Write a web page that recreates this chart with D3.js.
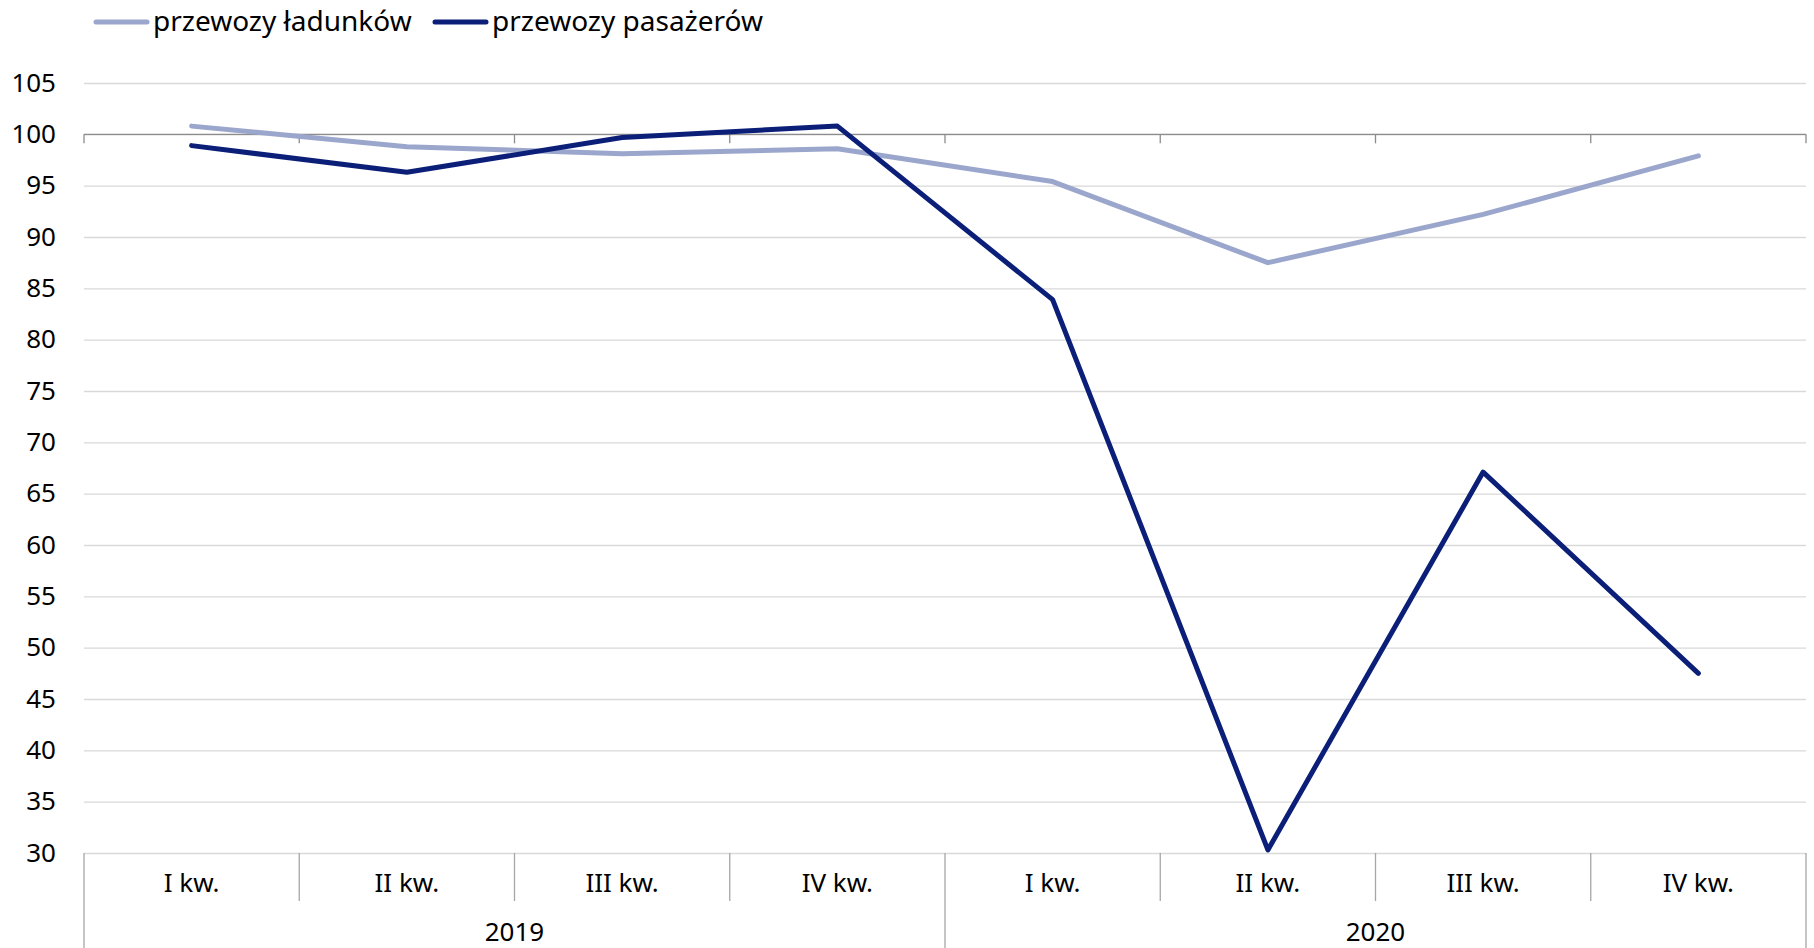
<!DOCTYPE html>
<meta charset="utf-8">
<style>
  body { margin: 0; background: #fff; }
  text { font-family: "Noto Sans", sans-serif; fill: #000; }
</style>
<body>
<div class="chart"></div>
<script src="https://cdn.jsdelivr.net/npm/d3@7"></script>
<script>

  // quarters and years on the category axis
  const quarters = ["I kw.", "II kw.", "III kw.", "IV kw.", "I kw.", "II kw.", "III kw.", "IV kw."];
  const years = ["2019", "2020"];

  // series (index values)
  const ladunki = [100.8, 98.8, 98.1, 98.6, 95.4, 87.5, 92.2, 97.9];
  const pasazerowie = [98.9, 96.3, 99.7, 100.8, 83.9, 30.3, 67.1, 47.5];

  const yTicks = [30, 35, 40, 45, 50, 55, 60, 65, 70, 75, 80, 85, 90, 95, 100, 105];

  const seriesNames = ["przewozy ładunków", "przewozy pasażerów"];
  const seriesColors = ["#9ba6cc", "#0b1f78"];

  let width = 1814;
  let height = 948;
  let margin = {top: 83, right: 8, bottom: 95, left: 84};

  let svg = d3.select(".chart").append("svg")
    .attr("width", width)
    .attr("height", height);

  let idx = d3.range(quarters.length);

  let x = d3.scaleBand()
    .domain(idx)
    .range([margin.left, width - margin.right])
    .padding(0);

  let y = d3.scaleLinear()
    .domain([30, 105])
    .range([height - margin.bottom, margin.top]);

  // gridlines + y labels
  let yAxis = svg.append("g")
    .attr("transform", `translate(${margin.left},0)`)
    .call(d3.axisLeft(y)
      .tickValues(yTicks)
      .tickSize(-(width - margin.left - margin.right))
      .tickPadding(28));
  yAxis.select(".domain").remove();
  yAxis.selectAll(".tick line").attr("stroke", "#d9d9d9").attr("stroke-width", 1.3);
  yAxis.selectAll(".tick text")
    .attr("font-size", "26px")
    .attr("font-family", "Noto Sans, sans-serif")
    .attr("fill", "#000");

  // category axis line crossing at 100, ticks pointing down
  let bounds = idx.map(i => x(i)).concat([x(idx[idx.length - 1]) + x.bandwidth()]);
  let axis100 = svg.append("g");
  axis100.append("line")
    .attr("x1", x.range()[0]).attr("x2", x.range()[1])
    .attr("y1", y(100)).attr("y2", y(100))
    .attr("stroke", "#8c8c8c").attr("stroke-width", 1.3);
  axis100.selectAll("line.t")
    .data(bounds)
    .enter().append("line")
    .attr("class", "t")
    .attr("x1", d => d).attr("x2", d => d)
    .attr("y1", y(100)).attr("y2", y(100) + 9)
    .attr("stroke", "#8c8c8c").attr("stroke-width", 1.3);

  // bottom labels with separators
  let base = y(30);
  let bottom = svg.append("g");
  bottom.selectAll("line.sep")
    .data(bounds)
    .enter().append("line")
    .attr("class", "sep")
    .attr("x1", d => d).attr("x2", d => d)
    .attr("y1", base)
    .attr("y2", (d, i) => i % 4 === 0 ? height : base + 48)
    .attr("stroke", "#a6a6a6").attr("stroke-width", 1.3);

  bottom.selectAll("text.q")
    .data(quarters)
    .enter().append("text")
    .attr("class", "q")
    .attr("x", (d, i) => x(i) + x.bandwidth() / 2)
    .attr("y", base + 39)
    .attr("text-anchor", "middle")
    .attr("font-size", "26px")
    .text(d => d);

  bottom.selectAll("text.yr")
    .data(years)
    .enter().append("text")
    .attr("class", "yr")
    .attr("x", (d, i) => (x(i * 4) + x(i * 4 + 3) + x.bandwidth()) / 2)
    .attr("y", base + 88)
    .attr("text-anchor", "middle")
    .attr("font-size", "26px")
    .text(d => d);

  // lines
  let line = d3.line()
    .x((d, i) => x(i) + x.bandwidth() / 2)
    .y(d => y(d));

  [ladunki, pasazerowie].forEach((s, k) => {
    svg.append("path")
      .datum(s)
      .attr("fill", "none")
      .attr("stroke", seriesColors[k])
      .attr("stroke-width", 5)
      .attr("stroke-linecap", "round")
      .attr("stroke-linejoin", "round")
      .attr("d", line);
  });

  // legend
  let legendX = [96, 435];
  let legend = svg.append("g");
  seriesNames.forEach((name, k) => {
    legend.append("line")
      .attr("x1", legendX[k]).attr("x2", legendX[k] + 51)
      .attr("y1", 22).attr("y2", 22)
      .attr("stroke", seriesColors[k])
      .attr("stroke-width", 5)
      .attr("stroke-linecap", "round");
    legend.append("text")
      .attr("x", legendX[k] + 57)
      .attr("y", 31)
      .attr("font-size", "28px")
      .text(name);
  });

</script>
